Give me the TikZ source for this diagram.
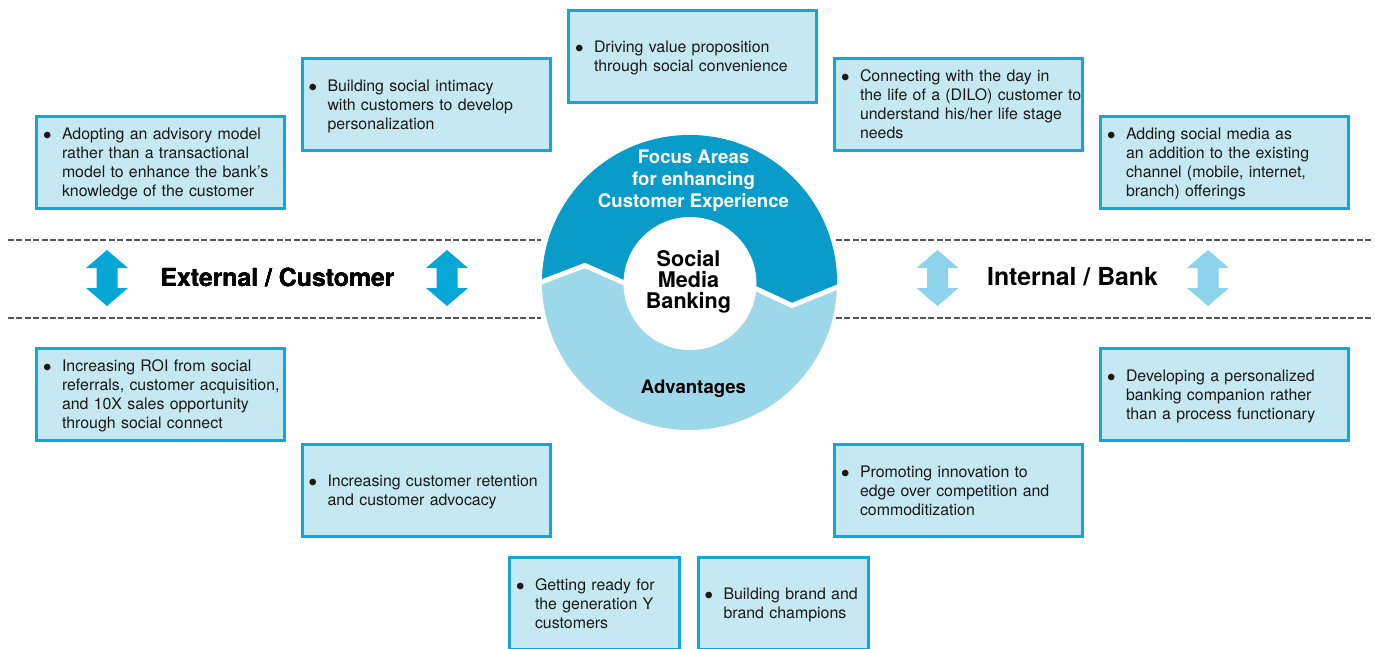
\documentclass[tikz,border=0pt]{standalone}
\usepackage{fontspec}
\setmainfont{TeX Gyre Heros}
\definecolor{ringdark}{HTML}{0A9CC8}
\definecolor{ringlight}{HTML}{9DD8EA}
\definecolor{boxline}{HTML}{12A7D8}
\definecolor{boxfill}{HTML}{C6E8F2}
\definecolor{arrowdark}{HTML}{06A7D7}
\definecolor{arrowlight}{HTML}{8DD3EC}
\definecolor{sepgray}{HTML}{555555}
\newcommand\bitem[1]{\makebox[9.5pt][l]{$\bullet$}\begin{tabular}[t]{@{}l@{}}\rule{0pt}{8.65pt}#1\end{tabular}}
\newcommand\dblarrow[2]{\fill[#2] (#1,250) -- ++(21,18) -- ++(-10.5,0) -- ++(0,20) -- ++(10.5,0) -- (#1,306) -- ++(-21,-18) -- ++(10.5,0) -- ++(0,-20) -- ++(-10.5,0) -- cycle;}
\begin{document}
\begin{tikzpicture}[x=0.5pt,y=-0.5pt,
    box/.style={draw=boxline, fill=boxfill, line width=1.5pt, minimum height=46pt,
      text width=117.5pt, inner xsep=3.25pt, inner ysep=0pt, align=left,
      text=black!90, font=\fontsize{7.95}{9.5}\selectfont},
    smallbox/.style={box, text width=78.5pt},
    sepline/.style={sepgray, line width=0.75pt, dash pattern=on 3pt off 1.2pt},
    heading/.style={font=\fontsize{12.4}{14}\selectfont\bfseries, inner sep=0pt}]
\useasboundingbox (0,0) rectangle (1375,648);
% dashed separators
\draw[sepline] (8,240) -- (541,240);
\draw[sepline] (836,240) -- (1372,240);
\draw[sepline] (8,318) -- (541,318);
\draw[sepline] (836,318) -- (1372,318);
% ring
\coordinate (c) at (689.5,282.5);
\fill[ringlight] (c) circle (147.5);
\begin{scope}
  \clip (c) circle (147.5);
  \fill[ringdark] (530,286.3) -- (585,265.5) -- (630,285.5) -- (750,286) -- (792,305.5) -- (850,282) -- (850,120) -- (530,120) -- cycle;
  \draw[white, line width=2.5pt] (530,286.3) -- (585,265.5) -- (630,285.5) -- (750,286) -- (792,305.5) -- (850,282);
\end{scope}
\fill[white] (690,283.5) circle (66.5);
\node[white, align=center, inner sep=0pt, font=\fontsize{9.3}{11}\selectfont\bfseries] (focus) at (693.5,181) {Focus Areas\\for enhancing\\Customer Experience};
\node[align=center, inner sep=0pt, font=\fontsize{10.8}{10.5}\selectfont\bfseries] (smb) at (688.5,282) {Social\\Media\\Banking};
\node[inner sep=0pt, font=\fontsize{9.3}{10.75}\selectfont\bfseries] (advant) at (693.5,389) {Advantages};
% side labels
\foreach \ax/\col in {107/arrowdark, 447/arrowdark, 937.5/arrowlight, 1208/arrowlight}
  \dblarrow{\ax}{\col}
\node[heading] (ext) at (277.5,277) {External / Customer};
\node[heading] (int) at (1072.5,277) {Internal / Bank};
% focus areas
\node[box] (adv) at (160.5,162.5) {\bitem{Adopting an advisory model\\rather than a transactional\\model to enhance the bank's\\knowledge of the customer}};
\node[box] (intimacy) at (426,104.5) {\bitem{Building social intimacy\\with customers to develop\\personalization}};
\node[box] (value) at (692.5,56.5) {\bitem{Driving value proposition\\through social convenience}};
\node[box] (dilo) at (958.5,104.5) {\bitem{Connecting with the day in\\the life of a (DILO) customer to\\understand his/her life stage\\needs}};
\node[box] (channel) at (1224.5,162.5) {\bitem{Adding social media as\\an addition to the existing\\channel (mobile, internet,\\branch) offerings}};
% advantages
\node[box] (roi) at (160.5,394.5) {\bitem{Increasing ROI from social\\referrals, customer acquisition,\\and 10X sales opportunity\\through social connect}};
\node[box] (retention) at (426,490.5) {\bitem{Increasing customer retention\\and customer advocacy}};
\node[smallbox] (genY) at (594.5,603.5) {\bitem{Getting ready for\\the generation Y\\customers}};
\node[smallbox] (brand) at (783,603.5) {\bitem{Building brand and\\brand champions}};
\node[box] (innovation) at (958.5,490.5) {\bitem{Promoting innovation to\\edge over competition and\\commoditization}};
\node[box] (companion) at (1224.5,394.5) {\bitem{Developing a personalized\\banking companion rather\\than a process functionary}};
\end{tikzpicture}
\end{document}
